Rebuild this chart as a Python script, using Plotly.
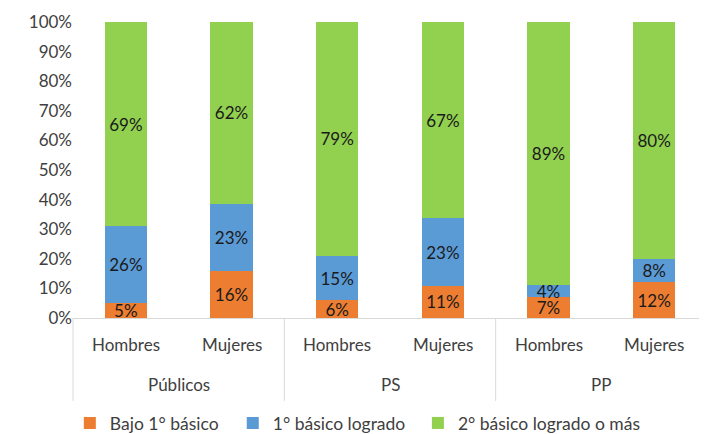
import plotly.graph_objects as go

# -----------------------------------------
#              データ
# -----------------------------------------
grupos = ["Públicos", "PS", "PP"]
sexo = ["Hombres", "Mujeres"]
categorias = [f"{g} {s}" for g in grupos for s in sexo]

bajo_1 = [5, 16, 6, 11, 7, 12]
logrado_1 = [26, 23, 15, 23, 4, 8]
logrado_2 = [69, 62, 79, 67, 89, 80]

SERIES = [
    ("Bajo 1° básico", bajo_1, "#ED7D31", "legend", -0.005),
    ("1° básico logrado", logrado_1, "#5B9BD5", "legend2", 0.252),
    ("2° básico logrado o más", logrado_2, "#92D050", "legend3", 0.544),
]

FONT = "Lato, 'Open Sans', sans-serif"
LINE_COLOR = "#d9d9d9"
TICK_COLOR = "#404040"

fig = go.Figure()

legends = {}
for name, vals, color, leg, lx in SERIES:
    fig.add_bar(
        x=categorias,
        y=vals,
        name=name,
        legend=leg,
        marker=dict(color=color, line=dict(width=0)),
        text=[f"{v}%" for v in vals],
        textposition="inside",
        insidetextanchor="middle",
        textangle=0,
        textfont=dict(color="#1a1a1a", size=17, family=FONT),
    )
    # 凡例は項目ごとに配置
    legends[leg] = dict(
        orientation="h",
        x=lx,
        xanchor="left",
        y=-0.355,
        yanchor="middle",
        font=dict(size=17.5, color=TICK_COLOR),
        itemwidth=30,
    )

# 軸ラベル（2段: 性別 / グループ）
annotations = []
for cat in categorias:
    annotations.append(dict(
        x=cat, y=-0.091, xref="x", yref="paper",
        text=cat.split(" ")[1], showarrow=False,
        font=dict(size=17, color=TICK_COLOR),
        xanchor="center", yanchor="middle",
    ))
for i, g in enumerate(grupos):
    annotations.append(dict(
        x=(i + 0.5) / len(grupos), y=-0.226, xref="paper", yref="paper",
        text=g, showarrow=False,
        font=dict(size=17, color=TICK_COLOR),
        xanchor="center", yanchor="middle",
    ))

# 区切り線
shapes = []
for i in range(len(grupos) + 1):
    shapes.append(dict(
        type="line", xref="paper", yref="paper",
        x0=i / len(grupos), x1=i / len(grupos), y0=0, y1=-0.28,
        line=dict(color=LINE_COLOR, width=1),
    ))

# ページ余白(8px)を考慮してサイズ調整
fig.update_layout(
    barmode="stack",
    barnorm="percent",
    bargap=0.6,
    width=699,
    height=426,
    margin=dict(l=65, r=0, t=14, b=116, autoexpand=False),
    plot_bgcolor="white",
    paper_bgcolor="white",
    font=dict(family=FONT, size=17, color=TICK_COLOR),
    uniformtext=dict(minsize=17, mode="show"),
    showlegend=True,
    annotations=annotations,
    shapes=shapes,
    **legends,
    yaxis=dict(
        range=[0, 100],
        dtick=10,
        ticksuffix="%",
        showgrid=False,
        zeroline=False,
        showline=False,
        ticks="",
        automargin=False,
    ),
    xaxis=dict(
        showline=True,
        linecolor=LINE_COLOR,
        linewidth=1,
        showticklabels=False,
        ticks="",
        automargin=False,
    ),
)

fig.write_html("out.html")
